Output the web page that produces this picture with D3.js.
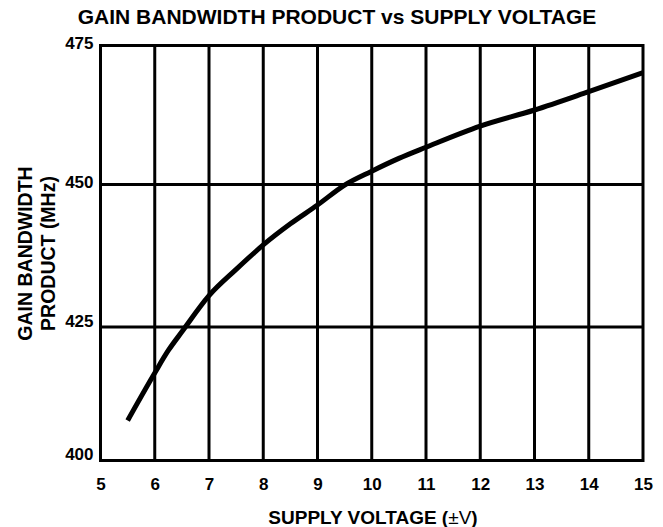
<!DOCTYPE html>
<html><head><meta charset="utf-8">
<script src="https://cdn.jsdelivr.net/npm/d3@7"></script>
<style>body{margin:0;background:#fff}svg{display:block}text{font-family:"Liberation Sans",Arial,sans-serif;fill:#000}</style>
</head><body><svg id="c" width="663" height="527"></svg>
<script>
const voltage = [5.5, 6, 6.25, 6.5, 7, 7.5, 8, 8.5, 9, 9.5, 10, 10.5, 11, 12, 13, 14, 15];
const gbw = [407.5, 416.4, 420.6, 424.1, 430.5, 435.1, 439.4, 443.1, 446.4, 449.9, 452.4, 454.7, 456.7, 460.5, 463.4, 466.7, 470.1];
const xTicks = [5, 6, 7, 8, 9, 10, 11, 12, 13, 14, 15];
const yTicks = [400, 425, 450, 475];

const svg = d3.select("#c");
const L = 100.5, R = 643, T = 45.5, B = 460.5;
const x = d3.scaleLinear().domain([5, 15]).range([L, R]);
const y = d3.scaleLinear().domain(yTicks).range([B, 327, 184.5, T]);
const FF = "Liberation Sans, Arial, sans-serif";

// grid
svg.append("g").selectAll("line").data(xTicks.slice(1, -1)).join("line")
  .attr("x1", d => x(d)).attr("x2", d => x(d)).attr("y1", T).attr("y2", B)
  .attr("stroke", "#000").attr("stroke-width", 3);
svg.append("g").selectAll("line").data(yTicks.slice(1, -1)).join("line")
  .attr("x1", L).attr("x2", R).attr("y1", d => y(d)).attr("y2", d => y(d))
  .attr("stroke", "#000").attr("stroke-width", 3);
svg.append("rect").attr("x", L).attr("y", T).attr("width", R - L).attr("height", B - T)
  .attr("fill", "none").attr("stroke", "#000").attr("stroke-width", 3);

// axes
const xAxis = svg.append("g").attr("transform", `translate(0,${B})`)
  .call(d3.axisBottom(x).tickValues(xTicks).tickSize(0).tickPadding(0).tickFormat(d3.format("d")));
xAxis.select(".domain").remove();
xAxis.selectAll("text").attr("dy", null).attr("y", 29.5)
  .style("font-size", "17px").style("font-weight", "bold").style("font-family", FF);

const yAxis = svg.append("g").attr("transform", `translate(${L},0)`)
  .call(d3.axisLeft(y).tickValues(yTicks).tickSize(0).tickPadding(7).tickFormat(d3.format("d")));
yAxis.select(".domain").remove();
yAxis.selectAll("text").style("font-size", "17px").style("font-weight", "bold").style("font-family", FF)
  .attr("dy", d => (d === 400 || d === 425) ? "-0.05em" : "0.15em");

// curve
svg.append("path").datum(voltage.map((v, i) => [v, gbw[i]]))
  .attr("d", d3.line().x(d => x(d[0])).y(d => y(d[1])).curve(d3.curveMonotoneX))
  .attr("fill", "none").attr("stroke", "#000").attr("stroke-width", 5);

// title
svg.append("text").attr("x", 337).attr("y", 23.5).attr("text-anchor", "middle")
  .style("font-size", "21px").style("font-weight", "bold").text("GAIN BANDWIDTH PRODUCT vs SUPPLY VOLTAGE");

// x label
const xl = svg.append("text").attr("x", 373).attr("y", 524).attr("text-anchor", "middle")
  .style("font-size", "19px").style("font-weight", "bold");
xl.append("tspan").text("SUPPLY VOLTAGE (");
xl.append("tspan").style("font-weight", "normal").text("±V");
xl.append("tspan").text(")");

// y label
const yl = svg.append("text").attr("transform", "translate(0,253.5) rotate(-90)").attr("text-anchor", "middle")
  .style("font-size", "19.5px").style("font-weight", "bold");
yl.append("tspan").attr("x", 0).attr("y", 31.5).text("GAIN BANDWIDTH");
yl.append("tspan").attr("x", 0).attr("y", 54.5).text("PRODUCT (MHz)");
</script></body></html>
